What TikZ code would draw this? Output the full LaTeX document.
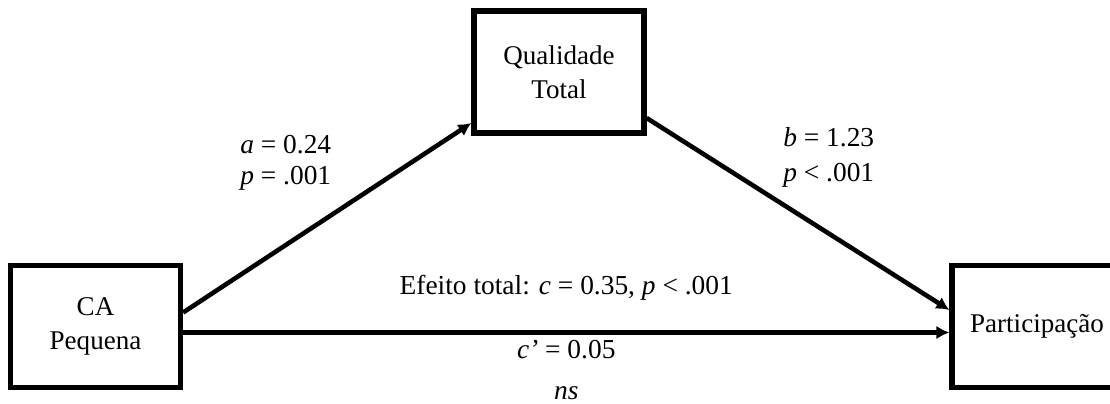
\documentclass[tikz,border=0pt]{standalone}
\usepackage{fontspec}
\setmainfont{Liberation Serif}
\usetikzlibrary{arrows.meta,positioning}

\begin{document}
\begin{tikzpicture}[x=0.02cm, y=-0.02cm,
    varbox/.style={draw, line width=3pt, minimum width=3.4cm, minimum height=2.44cm,
        align=center, font=\fontsize{15.4}{19.5}\selectfont},
    effect/.style={-{Latex[length=0.26cm, width=0.27cm]}, line width=2.6pt},
    lbl/.style={inner sep=0pt, font=\fontsize{15.6}{17.5}\selectfont}]
    \useasboundingbox (0,0) rectangle (1110,403);
    \node[varbox] (ca) at (95.5,326.5) {CA\\Pequena};
    \node[varbox] (qual) at (559,72) {Qualidade\\Total};
    \node[varbox] (part) at (1037,326.5) {Participação};
    \draw[effect] ([yshift=0.28cm]ca.east) -- ([yshift=-1.02cm]qual.west);
    \draw[effect] ([yshift=-0.92cm]qual.east) -- ([yshift=0.33cm]part.west);
    \draw[effect] ([yshift=-0.12cm]ca.east) -- ([yshift=-0.12cm]part.west)
        node[midway, lbl, above=0.6cm] (total) {Efeito total: \textit{c} = 0.35, \textit{p} < .001}
        node[midway, lbl, below=0.1cm, align=center, font=\fontsize{15.6}{23.5}\selectfont] (direct) {\textit{c’} = 0.05\\\textit{ns}};
    \node[lbl, anchor=west, align=left] (alab) at (240,163) {\textit{a} = 0.24\\\textit{p} = .001};
    \node[lbl, anchor=west, align=left, font=\fontsize{15.6}{20}\selectfont] (blab) at (783,157) {\textit{b} = 1.23\\\textit{p} < .001};
\end{tikzpicture}
\end{document}
